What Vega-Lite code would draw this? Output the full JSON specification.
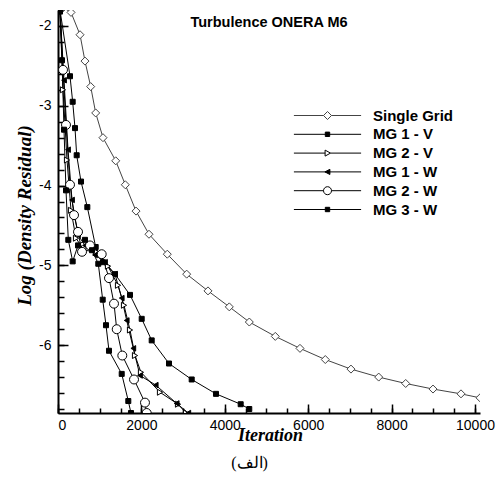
{
  "$schema": "https://vega.github.io/schema/vega-lite/v6.json",
  "width": 422,
  "height": 403,
  "autosize": {"type": "none"},
  "padding": {"left": 58, "top": 10, "right": 19, "bottom": 71},
  "background": "white",
  "config": {"view": {"stroke": null}},
  "title": {"text": "Turbulence ONERA M6", "font": "Liberation Sans", "fontWeight": "bold", "fontSize": 14.5, "color": "black", "anchor": "middle", "baseline": "alphabetic", "frame": "group", "offset": -17, "dy": 14},
  "data": {"values": [
    {"s": "Single Grid", "x": 127, "y": -1.77}, {"s": "Single Grid", "x": 312, "y": -1.83}, {"s": "Single Grid", "x": 528, "y": -2.11}, {"s": "Single Grid", "x": 647, "y": -2.44}, {"s": "Single Grid", "x": 784, "y": -2.76}, {"s": "Single Grid", "x": 904, "y": -3.09}, {"s": "Single Grid", "x": 1079, "y": -3.40}, {"s": "Single Grid", "x": 1384, "y": -3.69}, {"s": "Single Grid", "x": 1614, "y": -3.99}, {"s": "Single Grid", "x": 1871, "y": -4.32}, {"s": "Single Grid", "x": 2182, "y": -4.61}, {"s": "Single Grid", "x": 2621, "y": -4.86}, {"s": "Single Grid", "x": 3086, "y": -5.11}, {"s": "Single Grid", "x": 3597, "y": -5.32}, {"s": "Single Grid", "x": 4108, "y": -5.52}, {"s": "Single Grid", "x": 4588, "y": -5.71}, {"s": "Single Grid", "x": 5211, "y": -5.89}, {"s": "Single Grid", "x": 5803, "y": -6.04}, {"s": "Single Grid", "x": 6410, "y": -6.18}, {"s": "Single Grid", "x": 7026, "y": -6.30}, {"s": "Single Grid", "x": 7691, "y": -6.40}, {"s": "Single Grid", "x": 8338, "y": -6.48}, {"s": "Single Grid", "x": 8993, "y": -6.55}, {"s": "Single Grid", "x": 9664, "y": -6.61}, {"s": "Single Grid", "x": 10120, "y": -6.66},
    {"s": "MG 1 - V", "x": 48, "y": -1.80}, {"s": "MG 1 - V", "x": 288, "y": -2.63}, {"s": "MG 1 - V", "x": 352, "y": -2.95}, {"s": "MG 1 - V", "x": 408, "y": -3.28}, {"s": "MG 1 - V", "x": 448, "y": -3.62}, {"s": "MG 1 - V", "x": 552, "y": -3.95}, {"s": "MG 1 - V", "x": 703, "y": -4.27}, {"s": "MG 1 - V", "x": 904, "y": -4.77}, {"s": "MG 1 - V", "x": 1079, "y": -4.96}, {"s": "MG 1 - V", "x": 1367, "y": -5.11}, {"s": "MG 1 - V", "x": 1727, "y": -5.37}, {"s": "MG 1 - V", "x": 2007, "y": -5.67}, {"s": "MG 1 - V", "x": 2247, "y": -5.94}, {"s": "MG 1 - V", "x": 2662, "y": -6.23}, {"s": "MG 1 - V", "x": 3206, "y": -6.43}, {"s": "MG 1 - V", "x": 3789, "y": -6.61}, {"s": "MG 1 - V", "x": 4381, "y": -6.74}, {"s": "MG 1 - V", "x": 4587, "y": -6.80},
    {"s": "MG 2 - V", "x": 48, "y": -1.82}, {"s": "MG 2 - V", "x": 120, "y": -2.80}, {"s": "MG 2 - V", "x": 216, "y": -3.68}, {"s": "MG 2 - V", "x": 312, "y": -4.31}, {"s": "MG 2 - V", "x": 432, "y": -4.66}, {"s": "MG 2 - V", "x": 623, "y": -4.81}, {"s": "MG 2 - V", "x": 911, "y": -4.83}, {"s": "MG 2 - V", "x": 1199, "y": -5.01}, {"s": "MG 2 - V", "x": 1439, "y": -5.25}, {"s": "MG 2 - V", "x": 1583, "y": -5.50}, {"s": "MG 2 - V", "x": 1727, "y": -5.81}, {"s": "MG 2 - V", "x": 1847, "y": -6.13}, {"s": "MG 2 - V", "x": 1990, "y": -6.34}, {"s": "MG 2 - V", "x": 2446, "y": -6.59}, {"s": "MG 2 - V", "x": 2878, "y": -6.74}, {"s": "MG 2 - V", "x": 3070, "y": -6.85},
    {"s": "MG 1 - W", "x": 48, "y": -1.80}, {"s": "MG 1 - W", "x": 144, "y": -2.68}, {"s": "MG 1 - W", "x": 240, "y": -3.55}, {"s": "MG 1 - W", "x": 336, "y": -4.18}, {"s": "MG 1 - W", "x": 480, "y": -4.62}, {"s": "MG 1 - W", "x": 647, "y": -4.75}, {"s": "MG 1 - W", "x": 887, "y": -4.87}, {"s": "MG 1 - W", "x": 1127, "y": -4.96}, {"s": "MG 1 - W", "x": 1367, "y": -5.11}, {"s": "MG 1 - W", "x": 1528, "y": -5.41}, {"s": "MG 1 - W", "x": 1647, "y": -5.69}, {"s": "MG 1 - W", "x": 1806, "y": -6.04}, {"s": "MG 1 - W", "x": 1966, "y": -6.38}, {"s": "MG 1 - W", "x": 2343, "y": -6.50}, {"s": "MG 1 - W", "x": 2846, "y": -6.73}, {"s": "MG 1 - W", "x": 3125, "y": -6.85},
    {"s": "MG 2 - W", "x": 48, "y": -1.77}, {"s": "MG 2 - W", "x": 120, "y": -2.55}, {"s": "MG 2 - W", "x": 192, "y": -3.24}, {"s": "MG 2 - W", "x": 288, "y": -3.99}, {"s": "MG 2 - W", "x": 384, "y": -4.37}, {"s": "MG 2 - W", "x": 480, "y": -4.58}, {"s": "MG 2 - W", "x": 576, "y": -4.83}, {"s": "MG 2 - W", "x": 767, "y": -4.75}, {"s": "MG 2 - W", "x": 1048, "y": -4.86}, {"s": "MG 2 - W", "x": 1223, "y": -5.16}, {"s": "MG 2 - W", "x": 1343, "y": -5.48}, {"s": "MG 2 - W", "x": 1408, "y": -5.80}, {"s": "MG 2 - W", "x": 1542, "y": -6.13}, {"s": "MG 2 - W", "x": 1823, "y": -6.43}, {"s": "MG 2 - W", "x": 2086, "y": -6.72}, {"s": "MG 2 - W", "x": 2127, "y": -6.85},
    {"s": "MG 3 - W", "x": 48, "y": -1.82}, {"s": "MG 3 - W", "x": 96, "y": -2.43}, {"s": "MG 3 - W", "x": 144, "y": -3.30}, {"s": "MG 3 - W", "x": 192, "y": -4.06}, {"s": "MG 3 - W", "x": 247, "y": -4.68}, {"s": "MG 3 - W", "x": 352, "y": -4.95}, {"s": "MG 3 - W", "x": 480, "y": -4.75}, {"s": "MG 3 - W", "x": 647, "y": -4.68}, {"s": "MG 3 - W", "x": 815, "y": -4.81}, {"s": "MG 3 - W", "x": 966, "y": -4.98}, {"s": "MG 3 - W", "x": 1072, "y": -5.43}, {"s": "MG 3 - W", "x": 1151, "y": -5.75}, {"s": "MG 3 - W", "x": 1223, "y": -6.07}, {"s": "MG 3 - W", "x": 1528, "y": -6.36}, {"s": "MG 3 - W", "x": 1686, "y": -6.70}, {"s": "MG 3 - W", "x": 1750, "y": -6.85}
  ]},
  "resolve": {"axis": {"x": "independent", "y": "independent"}, "scale": {"shape": "independent", "fill": "independent", "stroke": "independent"}},
  "layer": [
    {
      "transform": [{"filter": "datum.s === 'Single Grid'"}],
      "mark": {"type": "line", "strokeWidth": 1, "color": "#444444", "clip": true},
      "encoding": {
        "x": {"field": "x", "type": "quantitative", "scale": {"domain": [0, 10120], "nice": false, "zero": false},
          "axis": {"orient": "bottom", "values": [0, 2000, 4000, 6000, 8000, 10000], "format": "d", "labelOverlap": false,
            "grid": false, "ticks": false, "tickSize": 0, "domainColor": "black", "domainWidth": 2,
            "labelFont": "Liberation Sans", "labelFontSize": 14, "labelColor": "black", "labelPadding": 5,
            "title": "Iteration", "titleFont": "Liberation Serif", "titleFontStyle": "italic", "titleFontWeight": "bold", "titleFontSize": 18, "titleColor": "black",
            "titleX": 212, "titleY": 27, "titleAlign": "center", "titleBaseline": "alphabetic", "titleAnchor": null}},
        "y": {"field": "y", "type": "quantitative", "scale": {"domain": [-6.85, -1.8], "nice": false, "zero": false},
          "axis": {"orient": "left", "values": [-6, -5, -4, -3, -2], "labelExpr": "'' + round(datum.value)", "labelOverlap": false,
            "grid": false, "ticks": false, "tickSize": 0, "domainColor": "black", "domainWidth": 2,
            "labelFont": "Liberation Sans", "labelFontSize": 14, "labelColor": "black", "labelPadding": 7,
            "title": "Log (Density Residual)", "titleFont": "Liberation Serif", "titleFontStyle": "italic", "titleFontWeight": "bold", "titleFontSize": 19, "titleColor": "black",
            "titleX": -28, "titleY": 205, "titleAngle": -90, "titleAlign": "center", "titleBaseline": "alphabetic", "titleAnchor": null}}
      }
    },
    {
      "transform": [{"filter": "datum.s !== 'Single Grid'"}],
      "mark": {"type": "line", "strokeWidth": 1, "color": "#000000", "clip": true},
      "encoding": {
        "x": {"field": "x", "type": "quantitative",
          "axis": {"orient": "bottom", "values": [0,500,1000,1500,2000,2500,3000,3500,4000,4500,5000,5500,6000,6500,7000,7500,8000,8500,9000,9500,10000],
            "domain": false, "labels": false, "grid": false, "tickColor": "black", "tickWidth": 1.5, "tickSize": -5, "title": null}},
        "y": {"field": "y", "type": "quantitative",
          "axis": {"orient": "left", "values": [-6.8,-6.6,-6.4,-6.2,-6,-5.8,-5.6,-5.4,-5.2,-5,-4.8,-4.6,-4.4,-4.2,-4,-3.8,-3.6,-3.4,-3.2,-3,-2.8,-2.6,-2.4,-2.2,-2],
            "domain": false, "labels": false, "grid": false, "tickColor": "black", "tickWidth": 1.5, "tickSize": -6, "title": null}},
        "detail": {"field": "s"}
      }
    },
    {
      "mark": {"type": "point", "strokeWidth": 1, "opacity": 1, "clip": true},
      "encoding": {
        "x": {"field": "x", "type": "quantitative",
          "axis": {"orient": "bottom", "values": [0, 2000, 4000, 6000, 8000, 10000],
            "domain": false, "labels": false, "grid": false, "tickColor": "black", "tickWidth": 1.5, "tickSize": -9,
            "title": "(الف)", "titleFont": "Liberation Serif", "titleFontWeight": "normal", "titleFontSize": 16, "titleColor": "black",
            "titleX": 191, "titleY": 54, "titleAlign": "center", "titleBaseline": "alphabetic", "titleAnchor": null}},
        "y": {"field": "y", "type": "quantitative",
          "axis": {"orient": "left", "values": [-6, -5, -4, -3, -2],
            "domain": false, "labels": false, "grid": false, "tickColor": "black", "tickWidth": 1.5, "tickSize": -10, "title": null}},
        "stroke": {"field": "s", "type": "nominal", "legend": null,
          "scale": {"domain": ["MG 1 - V", "MG 2 - V", "MG 1 - W", "MG 2 - W", "MG 3 - W", "Single Grid"], "range": ["#000000", "#000000", "#000000", "#000000", "#000000", "#444444"]}},
        "fill": {"field": "s", "type": "nominal", "legend": null,
          "scale": {"domain": ["MG 1 - V", "MG 2 - V", "MG 1 - W", "MG 2 - W", "MG 3 - W", "Single Grid"], "range": ["#000000", "#ffffff", "#000000", "#ffffff", "#000000", "#ffffff"]}},
        "size": {"field": "s", "type": "nominal", "legend": null,
          "scale": {"type": "ordinal", "domain": ["MG 1 - V", "MG 2 - V", "MG 1 - W", "MG 2 - W", "MG 3 - W", "Single Grid"], "range": [25, 36, 30, 80, 25, 64]}},
        "shape": {"field": "s", "type": "nominal", "legend": null,
          "scale": {"domain": ["MG 1 - V", "MG 2 - V", "MG 1 - W", "MG 2 - W", "MG 3 - W", "Single Grid"], "range": ["square", "triangle-right", "triangle-left", "circle", "square", "diamond"]}}
      }
    },
    {
      "mark": {"type": "point", "strokeWidth": 1, "opacity": 0, "clip": true},
      "encoding": {
        "x": {"field": "x", "type": "quantitative", "axis": null},
        "y": {"field": "y", "type": "quantitative", "axis": null},
        "stroke": {"field": "s", "type": "nominal",
          "scale": {"domain": ["Single Grid", "MG 1 - V", "MG 2 - V", "MG 1 - W", "MG 2 - W", "MG 3 - W"], "range": ["#444444", "#000000", "#000000", "#000000", "#000000", "#000000"]},
          "legend": {"title": null, "orient": "none", "legendX": 237, "legendY": 98, "padding": 0, "symbolSize": 64, "symbolStrokeWidth": 1, "symbolOpacity": 1,
            "symbolOffset": 25, "labelOffset": 38, "rowPadding": 2.8,
            "labelFont": "Liberation Sans", "labelFontWeight": "bold", "labelFontSize": 15, "labelColor": "black"}},
        "fill": {"field": "s", "type": "nominal",
          "scale": {"domain": ["Single Grid", "MG 1 - V", "MG 2 - V", "MG 1 - W", "MG 2 - W", "MG 3 - W"], "range": ["#ffffff", "#000000", "#ffffff", "#000000", "#ffffff", "#000000"]},
          "legend": {"title": null, "orient": "none", "legendX": 237, "legendY": 98, "padding": 0, "symbolSize": 64, "symbolStrokeWidth": 1, "symbolOpacity": 1,
            "symbolOffset": 25, "labelOffset": 38, "rowPadding": 2.8,
            "labelFont": "Liberation Sans", "labelFontWeight": "bold", "labelFontSize": 15, "labelColor": "black"}},
        "shape": {"field": "s", "type": "nominal",
          "scale": {"domain": ["Single Grid", "MG 1 - V", "MG 2 - V", "MG 1 - W", "MG 2 - W", "MG 3 - W"],
            "range": ["M-8.4,0H-1M-1,0L0,-1L1,0L0,1ZM1,0H8.4", "M-8.4,0H8.4M-0.55,-0.55H0.55V0.55H-0.55Z", "M-8.4,0H-0.6M-0.6,-0.75L0.75,0L-0.6,0.75ZM0.75,0H8.4", "M-8.4,0H8.4M0.6,-0.65L-0.65,0L0.6,0.65Z", "M-8.4,0H-1A1,1,0,1,0,1,0A1,1,0,1,0,-1,0M1,0H8.4", "M-8.4,0H8.4M-0.55,-0.55H0.55V0.55H-0.55Z"]},
          "legend": {"title": null, "orient": "none", "legendX": 237, "legendY": 98, "padding": 0, "symbolSize": 64, "symbolStrokeWidth": 1, "symbolOpacity": 1,
            "symbolOffset": 25, "labelOffset": 38, "rowPadding": 2.8,
            "labelFont": "Liberation Sans", "labelFontWeight": "bold", "labelFontSize": 15, "labelColor": "black"}}
      }
    }
  ]
}
